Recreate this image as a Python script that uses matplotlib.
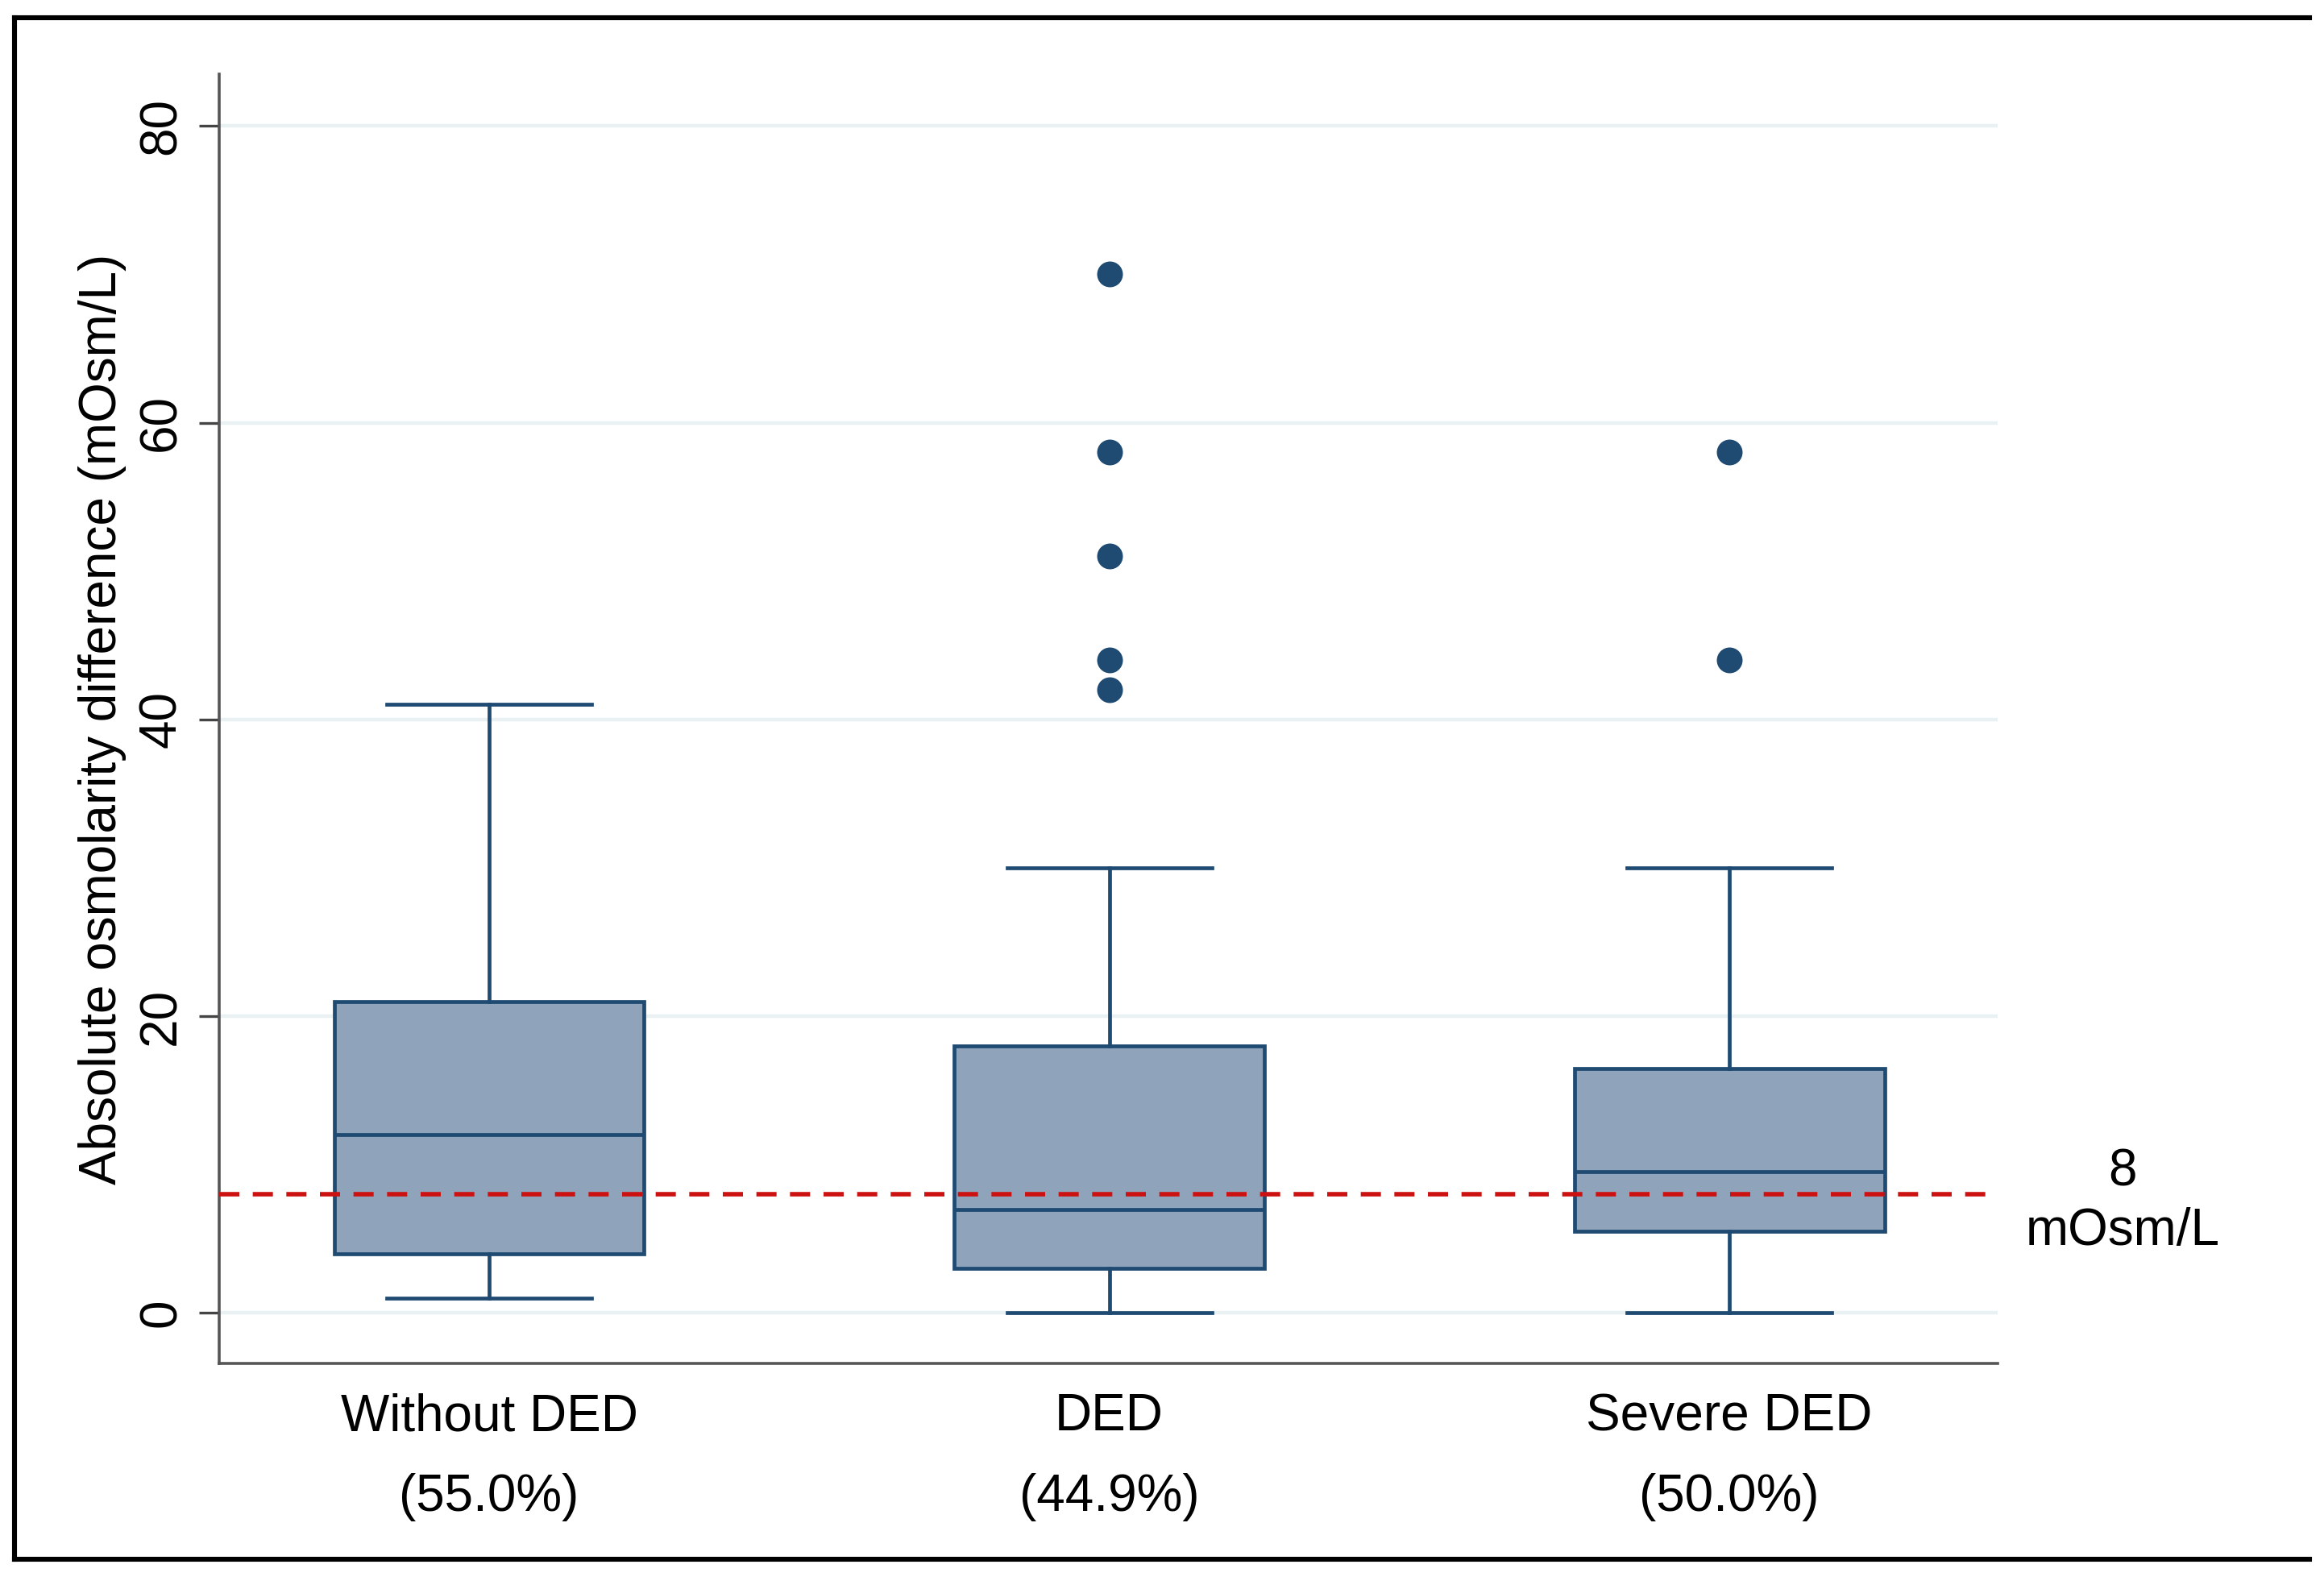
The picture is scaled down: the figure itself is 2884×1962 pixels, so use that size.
import numpy as np
import matplotlib.pyplot as plt
from matplotlib.lines import Line2D

plt.rcParams['font.family'] = ['Liberation Sans', 'DejaVu Sans']

# groups and box statistics
groups = ['Without DED', 'DED', 'Severe DED']
shares = ['(55.0%)', '(44.9%)', '(50.0%)']
whisker_low = [1, 0, 0]
q1 = [4, 3, 5.5]
median = [12, 7, 9.5]
q3 = [21, 18, 16.5]
whisker_high = [41, 30, 30]
outliers = [[], [42, 44, 51, 58, 70], [44, 58]]
cutoff = 8

box_fill = '#8fa4ba'
navy = '#1f4a72'

stats = []
for i in range(len(groups)):
    stats.append(dict(whislo=whisker_low[i], q1=q1[i], med=median[i], q3=q3[i],
                      whishi=whisker_high[i], fliers=outliers[i], label=groups[i]))

fig = plt.figure(figsize=(14.42, 9.81), dpi=200)
ax = fig.add_axes([0.0944, 0.1376, 0.7653, 0.8156])

# grid
for v in [0, 20, 40, 60, 80]:
    ax.axhline(v, color='#e9f1f2', lw=1.6, zorder=0)

lw = 1.7
ax.bxp(stats, positions=[1, 2, 3], widths=0.5, patch_artist=True,
       boxprops=dict(facecolor=box_fill, edgecolor=navy, linewidth=lw),
       medianprops=dict(color=navy, linewidth=lw),
       whiskerprops=dict(color=navy, linewidth=lw),
       capprops=dict(color=navy, linewidth=lw), capwidths=0.33,
       flierprops=dict(marker='o', markerfacecolor=navy, markeredgecolor=navy,
                       markersize=10.5), zorder=2)

ax.axhline(cutoff, color='#cc1111', lw=2.0, ls=(0, (4.5, 3.0)), zorder=3)

fs = 23
ax.set_xlim(0.565, 3.433)
ax.set_ylim(-3.4, 83.5)
ax.set_yticks([0, 20, 40, 60, 80])
ax.set_yticklabels(['0', '20', '40', '60', '80'], rotation=90, va='center', fontsize=fs)
ax.set_xticks([1, 2, 3])
ax.set_xticklabels([g + '\n' + s for g, s in zip(groups, shares)],
                   fontsize=fs, linespacing=1.85)
ax.tick_params(axis='x', length=0, pad=13)
ax.tick_params(axis='y', length=9, width=1.2, color='#444444', pad=6)
ax.set_ylabel('Absolute osmolarity difference (mOsm/L)', fontsize=fs, labelpad=5)

for side in ['top', 'right']:
    ax.spines[side].set_visible(False)
for side in ['left', 'bottom']:
    ax.spines[side].set_color('#555555')
    ax.spines[side].set_linewidth(1.3)

ax.text(1.07, cutoff - 0.5, '8\nmOsm/L', transform=ax.get_yaxis_transform(),
        ha='center', va='center', fontsize=fs, linespacing=1.3)

# outer frame (cropped on the right)
x0, x1, y0, y1 = 0.0064, 0.9936, 0.014, 0.9888
for xs, ys in [([x0, x1], [y1, y1]), ([x0, x1], [y0, y0]), ([x0, x0], [y0, y1])]:
    fig.add_artist(Line2D(xs, ys, transform=fig.transFigure, color='black', lw=2.2))

fig.savefig('out.png', dpi=200, facecolor='white')
